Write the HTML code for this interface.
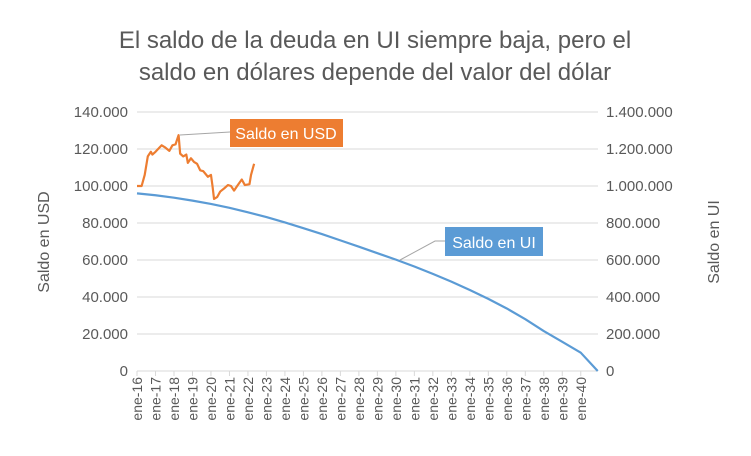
<!DOCTYPE html>
<html><head><meta charset="utf-8"><style>
body{margin:0;background:#fff;font-family:"Liberation Sans",Arial,sans-serif}
svg text{font-family:"Liberation Sans",Arial,sans-serif}
</style></head><body>
<svg id="c" width="751" height="451" xmlns="http://www.w3.org/2000/svg">
<text x="375" y="48" text-anchor="middle" font-size="24" fill="#595959">El saldo de la deuda en UI siempre baja, pero el</text>
<text x="375" y="80" text-anchor="middle" font-size="24" fill="#595959">saldo en dólares depende del valor del dólar</text>
<g id="grid"></g><g id="ticks"></g><g id="series"></g>
<text transform="translate(49,242) rotate(-90)" text-anchor="middle" font-size="16" fill="#595959">Saldo en USD</text>
<text transform="translate(719,242) rotate(-90)" text-anchor="middle" font-size="16" fill="#595959">Saldo en UI</text>
<line x1="180" y1="135" x2="230" y2="132" stroke="#a6a6a6" stroke-width="1"/>
<rect x="230" y="119" width="113" height="28" fill="#ED7D31"/>
<text x="286" y="139" text-anchor="middle" font-size="16" fill="#fff">Saldo en USD</text>
<polyline points="400,260 435,241 445,241" fill="none" stroke="#a6a6a6" stroke-width="1"/>
<rect x="445" y="227" width="98" height="29" fill="#5B9BD5"/>
<text x="494" y="248" text-anchor="middle" font-size="16" fill="#fff">Saldo en UI</text>
</svg>
<script>
const yearLabels=["ene-16","ene-17","ene-18","ene-19","ene-20","ene-21","ene-22","ene-23","ene-24","ene-25","ene-26","ene-27","ene-28","ene-29","ene-30","ene-31","ene-32","ene-33","ene-34","ene-35","ene-36","ene-37","ene-38","ene-39","ene-40"];
const leftTicks=[0,20000,40000,60000,80000,100000,120000,140000];
const rightTicks=[0,200000,400000,600000,800000,1000000,1200000,1400000];
const usdMonths=[0,3,5,7,9,10,12,16,18,21,23,25,27,28,30,32,33,35,37,39,41,43,46,48,49,50,52,54,57,59,61,63,65,68,70,73,74,76];
const usdValues=[100000,100000,106000,116000,118500,117000,118500,122000,121000,119000,122000,122500,127500,117500,116000,117000,112500,115000,113000,112000,108500,108000,105000,106000,100000,93000,94000,97000,99000,100500,100000,97500,100000,103500,100500,101000,106000,112000];
const uiMonths=[0,12,24,36,48,60,72,84,96,108,120,132,144,156,168,180,192,204,216,228,240,252,264,276,288,299];
const uiValues=[960000,950000,937000,921000,903000,882000,858000,832000,803000,772000,740000,706000,672000,637000,602000,565000,525000,483000,438000,390000,338000,280000,216000,158000,99000,0];
const X0=137,MPX=18.49/12,Y0=371,YT=112;
const x=m=>X0+m*MPX;
const yL=v=>Y0-(v/140000)*(Y0-YT);
const yR=v=>Y0-(v/1400000)*(Y0-YT);
const NS="http://www.w3.org/2000/svg";
function mk(t,a,p){const e=document.createElementNS(NS,t);for(const k in a)e.setAttribute(k,a[k]);p.appendChild(e);return e;}
const fmt=v=>v.toString().replace(/\B(?=(\d{3})+(?!\d))/g,".");
const grid=document.getElementById('grid'),ticks=document.getElementById('ticks'),series=document.getElementById('series');
leftTicks.forEach((v,i)=>{
 const l=mk('line',{x1:X0,x2:598,y1:yL(v),y2:yL(v),stroke:'#d9d9d9','stroke-width':1},grid);
 
 
 const t=mk('text',{x:128,y:yL(v)+5,'text-anchor':'end','font-size':15,fill:'#595959'},ticks);
 t.textContent=fmt(v);
 
 
});
rightTicks.forEach(v=>{
 const t=mk('text',{x:606,y:yR(v)+5,'text-anchor':'start','font-size':15,fill:'#595959'},ticks);
 t.textContent=fmt(v);
 
 
});
yearLabels.forEach((s,i)=>{
 const xx=x(i*12);
 const tk=mk('line',{x1:xx,x2:xx,y1:Y0,y2:Y0+5,stroke:'#d9d9d9'},ticks);
 
 
 const t=mk('text',{transform:`translate(${xx+5},${Y0+6}) rotate(-90)`,'text-anchor':'end','font-size':14,fill:'#595959'},ticks);
 t.textContent=s;
 
 
});
const ui=mk('polyline',{points:uiMonths.map((m,i)=>x(m)+','+yR(uiValues[i])).join(' '),fill:'none',stroke:'#5B9BD5','stroke-width':2.2,'stroke-linejoin':'round'},series);


const usd=mk('polyline',{points:usdMonths.map((m,i)=>x(m)+','+yL(usdValues[i])).join(' '),fill:'none',stroke:'#ED7D31','stroke-width':2.2,'stroke-linejoin':'round'},series);


</script>
</body></html>
